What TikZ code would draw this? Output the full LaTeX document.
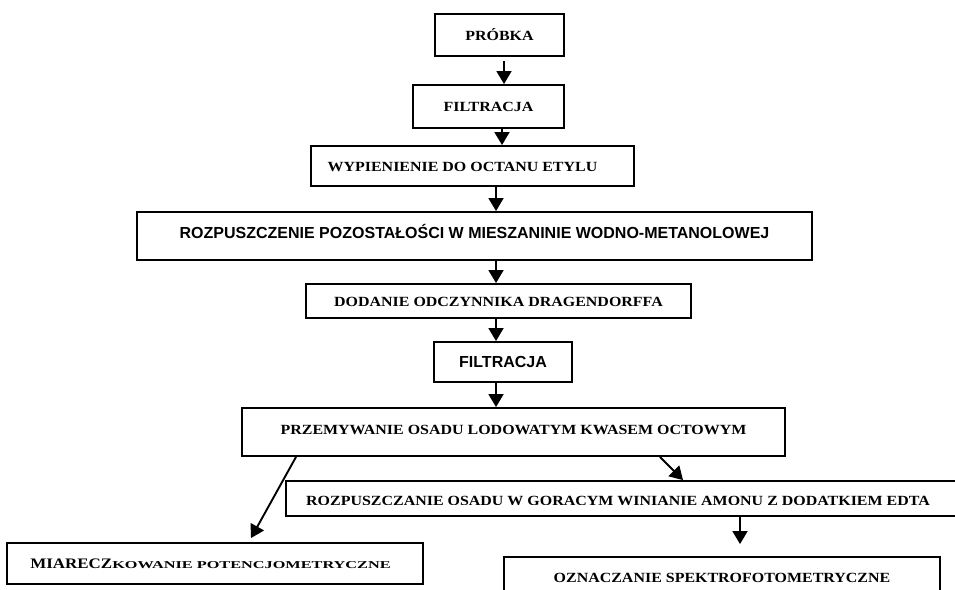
\documentclass[tikz,border=0pt]{standalone}
\usepackage{fontspec}
\setmainfont{Liberation Serif}
\newfontfamily\sansb{Liberation Sans}
\usetikzlibrary{arrows.meta}
\newcommand{\hx}[2]{\scalebox{#1}[1]{#2}}
\begin{document}
\begin{tikzpicture}[x=1pt,y=-1pt,
  box/.style={draw, line width=1.9pt, inner sep=0pt, text height=10pt, text depth=0pt,
    font=\fontsize{14}{16}\selectfont\bfseries},
  sansbox/.style={box, font=\sansb\fontsize{16}{18}\selectfont\bfseries},
  raised/.style={text depth=6pt},
  plaintext/.style={inner sep=0pt, font=\fontsize{14}{16}\selectfont\bfseries},
  arr/.style={line width=1.9pt, -{Triangle[width=15pt,length=13pt]}}]
\useasboundingbox (0,0) rectangle (955,589);
\clip (0,0) rectangle (955,589);

\node[box, minimum width=129pt, minimum height=42pt] (probka) at (499.5,35) {\hx{1.14}{PRÓBKA}};
\node[box, minimum width=151pt, minimum height=43pt] (filt1) at (488.5,106.5) {\hx{1.14}{FILTRACJA}};
\node[box, minimum width=323pt, minimum height=40pt] (wyp) at (472.5,166) {\hx{1.14}{WYPIENIENIE DO OCTANU ETYLU}\hspace*{20pt}};
\node[sansbox, raised, minimum width=675pt, minimum height=48pt] (rozp) at (474.5,236) {ROZPUSZCZENIE POZOSTAŁOŚCI W MIESZANINIE WODNO-METANOLOWEJ};
\node[box, minimum width=385pt, minimum height=34pt] (dod) at (498.5,301) {\hx{1.14}{DODANIE ODCZYNNIKA DRAGENDORFFA}};
\node[sansbox, minimum width=138pt, minimum height=40pt] (filt2) at (503,362) {FILTRACJA};
\node[box, raised, minimum width=543pt, minimum height=48pt] (przem) at (513.5,432) {\hx{1.14}{PRZEMYWANIE OSADU LODOWATYM KWASEM OCTOWYM}};
\node[box, minimum width=714pt, minimum height=35pt] (rozp2) at (643,498.5) {};
\begin{scope}
  \clip (286,481) rectangle (955,504);
  \node[plaintext, anchor=base west] (rozp2t) at (306,505.5) {\hx{1.14}{ROZPUSZCZANIE OSADU W GORACYM WINIANIE AMONU Z DODATKIEM EDTA}};
\end{scope}
\node[box, minimum width=416pt, minimum height=41pt] (miar) at (215,563.5)
  {{\fontsize{14.5}{16}\selectfont\hx{1.17}{MIARECZ}}{\fontsize{10.5}{12}\selectfont\hx{1.55}{KOWANIE POTENCJOMETRYCZNE}}\hspace*{9pt}};
\node[box, minimum width=436pt, minimum height=40pt] (ozn) at (722,577) {\hx{1.14}{OZNACZANIE SPEKTROFOTOMETRYCZNE}};

\draw[arr] ([xshift=4.5pt,yshift=-4pt]probka.south) -- ([xshift=15.5pt]filt1.north);
\draw[arr] ([xshift=13.5pt]filt1.south) -- ([xshift=29.5pt]wyp.north);
\draw[arr] ([xshift=23.5pt]wyp.south) -- ([xshift=21.5pt]rozp.north);
\draw[arr] ([xshift=21.5pt]rozp.south) -- ([xshift=-2.5pt]dod.north);
\draw[arr] ([xshift=-2.5pt]dod.south) -- ([xshift=-7pt]filt2.north);
\draw[arr] ([xshift=-7pt]filt2.south) -- ([xshift=-17.5pt]przem.north);
\draw[arr] ([xshift=-217.5pt]przem.south) -- ([xshift=36pt,yshift=4pt]miar.north);
\draw[arr] ([xshift=146.5pt]przem.south) -- ([xshift=40pt]rozp2.north);
\draw[arr] ([xshift=97pt]rozp2.south) -- ([xshift=18pt,yshift=12pt]ozn.north);
\end{tikzpicture}
\end{document}
